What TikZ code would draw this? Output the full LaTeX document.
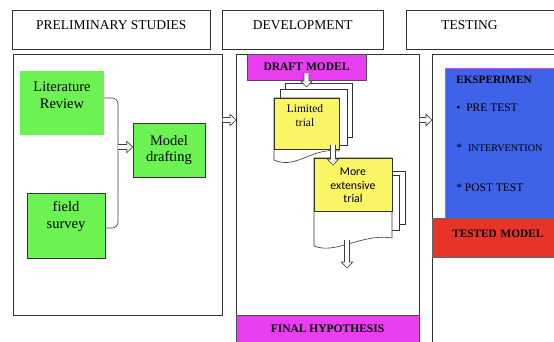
\documentclass[tikz,border=0pt]{standalone}
\usepackage{fontspec}
\setmainfont{Liberation Serif}
\newfontfamily\calibrifont{Carlito}
\usetikzlibrary{arrows.meta,positioning,calc}

\definecolor{leafgreen}{RGB}{108,242,82}
\definecolor{draftpink}{RGB}{232,62,240}
\definecolor{trialyellow}{RGB}{250,245,100}
\definecolor{expblue}{RGB}{62,98,232}
\definecolor{testred}{RGB}{232,52,40}

% hollow block arrow from #1 to #2
\newcommand{\hollowarrow}[2]{%
    \path ($(#2)!6pt!(#1)$) coordinate (ha-base);
    \draw[hollow arrow] ($(#1)!2.5pt!90:(#2)$) -- ($(ha-base)!2.5pt!-90:(#1)$)
        -- ($(ha-base)!5.8pt!-90:(#1)$) -- (#2) -- ($(ha-base)!5.8pt!90:(#1)$)
        -- ($(ha-base)!2.5pt!90:(#1)$) -- ($(#1)!2.5pt!-90:(#2)$);
}

\begin{document}
\begin{tikzpicture}[x=1pt,y=-1pt,line width=0.6pt]
    \tikzstyle{header}=[draw=black!80,anchor=north west,minimum height=39pt,inner ysep=4pt,
        text height=15pt,text depth=16pt,font=\fontsize{13.5}{15}\selectfont]
    \tikzstyle{panel}=[draw=black!80,anchor=north west,inner sep=0pt]
    \tikzstyle{greenbox}=[fill=leafgreen,align=center,inner sep=0pt,
        font=\fontsize{14.5}{16.5}\selectfont]
    \tikzstyle{greentext}=[align=center,font=\fontsize{14.5}{16.5}\selectfont]
    \tikzstyle{pinkbox}=[fill=draftpink,draw=black!70,inner sep=0pt,
        font=\bfseries\fontsize{11.5}{13}\selectfont]
    \tikzstyle{sheet}=[draw=black!80,fill=white]
    \tikzstyle{hollow arrow}=[draw=black!75,fill=white,line width=0.6pt,line join=miter]
    \tikzstyle{listitem}=[anchor=base west,inner sep=0pt,font=\fontsize{11.5}{13}\selectfont]

    \clip (0,0) rectangle (554,342);
    \fill[white] (0,0) rectangle (554,342);

    % Column headers
    \node[header,minimum width=198pt] (h-prelim) at (12,10) {PRELIMINARY STUDIES};
    \node[header,minimum width=161pt] (h-devel) at (222,10) {DEVELOPMENT};
    \node[header,inner xsep=35pt,text width=84pt,align=left] (h-test) at (406,10) {TESTING};

    % Column panels
    \node[panel,minimum width=209pt,minimum height=261pt] (prelim) at (13,54) {};
    \node[panel,minimum width=183pt,minimum height=261pt] (devel) at (236,54) {};
    \node[panel,minimum width=130pt,minimum height=300pt] (test) at (432,54) {};

    % Preliminary studies
    \node[greenbox,minimum width=84pt,minimum height=64pt,
        label={[greentext,anchor=north,yshift=-8pt]north:Literature\\Review}] (lit) at (62,103) {};
    \node[greenbox,draw=black!80,minimum width=78pt,minimum height=65pt,
        label={[greentext,yshift=9pt]center:field\\survey}] (survey) at (66,225.5) {};
    \node[greenbox,draw=black!80,minimum width=72pt,minimum height=54pt] (model) at (169,150) {Model\\drafting};

    \coordinate (joint) at (118,147);
    \draw[draw=black!75,rounded corners=6pt] (lit.east |- 0,98) -| (joint) |- (survey.east |- 0,228);
    \hollowarrow{joint}{model.west |- joint}

    % Development
    \node[pinkbox,minimum width=119pt,minimum height=26pt] (draft) at (306.5,67) {DRAFT MODEL};

    % first stack of sheets
    \draw[sheet] (285,83) rectangle (352,137);
    \draw[sheet] (280,89) rectangle (347,145);
    \draw[sheet] (274,98) -- (274,160) .. controls (296,170) and (312,147) .. (339,151) -- (339,98) -- cycle;
    \draw[draw=black!80,fill=trialyellow] (274,98) rectangle (339,149);
    \node[align=center,font=\fontsize{11.5}{14}\selectfont] (limited) at (305,116) {Limited\\trial};

    % second stack of sheets
    \draw[sheet] (322,171) rectangle (405,224);
    \draw[sheet] (318,175) rectangle (399,230);
    \draw[sheet] (314,158) -- (314,246) .. controls (336,255) and (362,233) .. (392,238) -- (392,158) -- cycle;
    \draw[draw=black!80,fill=trialyellow] (314,158) rectangle (392,211);
    \node[align=center,font=\calibrifont\fontsize{11.8}{13.5}\selectfont] (extensive) at (353,185.5) {More\\extensive\\trial};

    \node[pinkbox,minimum width=183pt,minimum height=28pt] (hypo) at (327.5,329) {FINAL HYPOTHESIS};

    \coordinate (doc1top) at (306.5,87);
    \coordinate (doc1foot) at (333,145);
    \coordinate (doc2top) at (333,165);
    \coordinate (doc2foot) at (347,240);
    \coordinate (doc2out) at (347,268);
    \hollowarrow{[yshift=7pt]draft.south}{doc1top}
    \hollowarrow{doc1foot}{doc2top}
    \hollowarrow{doc2foot}{doc2out}

    % Testing
    \node[fill=expblue,draw=draftpink,line width=0.4pt,anchor=north west,inner sep=0pt,
        minimum width=115pt,minimum height=150pt] (exp) at (445,68) {};
    \node[fill=testred,draw=black!60,anchor=north west,inner sep=0pt,minimum width=128pt,
        minimum height=39pt,text height=19pt,text depth=20pt,
        font=\bfseries\fontsize{11.3}{13}\selectfont,text width=128pt,align=left] (tested) at (432,218) {\hspace*{20pt}TESTED MODEL};

    \node[listitem,font=\bfseries\fontsize{11.2}{13}\selectfont] (exp-title) at (456,84) {EKSPERIMEN};
    \node[listitem] (pre) at (456,112) {\textbullet\hspace{6pt}PRE TEST};
    \node[listitem] (inter) at (456,152) {*\hspace{6pt}{\fontsize{10.2}{12}\selectfont INTERVENTION}};
    \node[listitem] (post) at (456,191) {* POST TEST};

    % Arrows between the columns
    \coordinate (row) at (0,120);
    \hollowarrow{prelim.east |- row}{devel.west |- row}
    \hollowarrow{devel.east |- row}{test.west |- row}
\end{tikzpicture}
\end{document}
